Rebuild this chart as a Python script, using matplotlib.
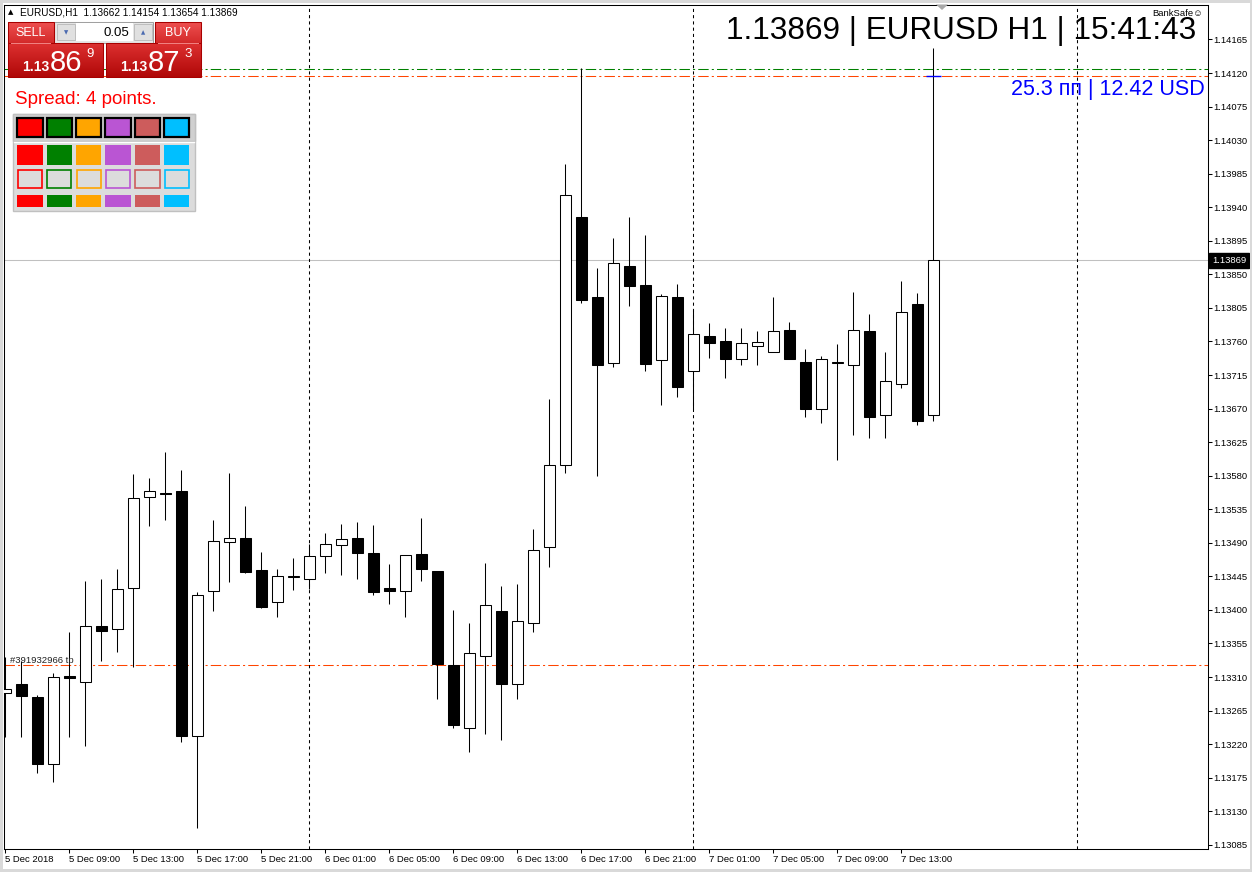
import numpy as np
import matplotlib.pyplot as plt
import matplotlib.transforms as mtransforms
from matplotlib.patches import Rectangle, Polygon
from matplotlib.colors import LinearSegmentedColormap

plt.rcParams['font.family'] = ['Liberation Sans', 'DejaVu Sans']

W, H = 1252, 872

# EURUSD H1, first bar = 5 Dec 2018 05:00, last bar = 7 Dec 15:00
opens = [1.13288, 1.13300, 1.13283, 1.13194, 1.13311, 1.13304, 1.13379, 1.13374, 1.13430, 1.13552,
         1.13557, 1.13559, 1.13231, 1.13426, 1.13491, 1.13497, 1.13453, 1.13410, 1.13444, 1.13441,
         1.13472, 1.13487, 1.13497, 1.13477, 1.13430, 1.13426, 1.13475, 1.13452, 1.13326, 1.13241,
         1.13338, 1.13399, 1.13300, 1.13382, 1.13485, 1.13595, 1.13927, 1.13820, 1.13731, 1.13861,
         1.13836, 1.13735, 1.13820, 1.13720, 1.13767, 1.13761, 1.13737, 1.13754, 1.13746, 1.13775,
         1.13733, 1.13670, 1.13731, 1.13728, 1.13774, 1.13661, 1.13703, 1.13810, 1.13662]
highs = [1.13337, 1.13331, 1.13286, 1.13316, 1.13370, 1.13439, 1.13442, 1.13455, 1.13582, 1.13577,
         1.13612, 1.13588, 1.13424, 1.13521, 1.13584, 1.13539, 1.13478, 1.13455, 1.13470, 1.13488,
         1.13503, 1.13515, 1.13518, 1.13514, 1.13462, 1.13473, 1.13523, 1.13452, 1.13400, 1.13382,
         1.13463, 1.13432, 1.13435, 1.13508, 1.13683, 1.13998, 1.14127, 1.13859, 1.13899, 1.13927,
         1.13903, 1.13824, 1.13837, 1.13802, 1.13785, 1.13778, 1.13778, 1.13774, 1.13820, 1.13786,
         1.13750, 1.13740, 1.13756, 1.13826, 1.13797, 1.13746, 1.13841, 1.13825, 1.14154]
lows = [1.13230, 1.13230, 1.13181, 1.13169, 1.13229, 1.13217, 1.13331, 1.13344, 1.13324, 1.13512,
        1.13520, 1.13223, 1.13107, 1.13399, 1.13438, 1.13450, 1.13402, 1.13391, 1.13427, 1.13428,
        1.13450, 1.13447, 1.13442, 1.13420, 1.13408, 1.13391, 1.13439, 1.13280, 1.13242, 1.13210,
        1.13234, 1.13225, 1.13281, 1.13371, 1.13457, 1.13583, 1.13812, 1.13580, 1.13726, 1.13808,
        1.13720, 1.13675, 1.13686, 1.13670, 1.13738, 1.13711, 1.13728, 1.13729, 1.13746, 1.13737,
        1.13659, 1.13651, 1.13601, 1.13635, 1.13631, 1.13630, 1.13697, 1.13648, 1.13654]
closes = [1.13294, 1.13284, 1.13193, 1.13310, 1.13309, 1.13379, 1.13372, 1.13428, 1.13550, 1.13559,
          1.13556, 1.13231, 1.13420, 1.13493, 1.13497, 1.13451, 1.13404, 1.13445, 1.13445, 1.13472,
          1.13488, 1.13495, 1.13477, 1.13424, 1.13426, 1.13473, 1.13455, 1.13327, 1.13246, 1.13342,
          1.13406, 1.13301, 1.13385, 1.13481, 1.13595, 1.13957, 1.13816, 1.13729, 1.13865, 1.13835,
          1.13730, 1.13821, 1.13699, 1.13770, 1.13758, 1.13737, 1.13758, 1.13759, 1.13774, 1.13737,
          1.13669, 1.13737, 1.13732, 1.13776, 1.13659, 1.13707, 1.13800, 1.13654, 1.13869]

time_labels = ['5 Dec 2018', '5 Dec 09:00', '5 Dec 13:00', '5 Dec 17:00', '5 Dec 21:00',
               '6 Dec 01:00', '6 Dec 05:00', '6 Dec 09:00', '6 Dec 13:00', '6 Dec 17:00',
               '6 Dec 21:00', '7 Dec 01:00', '7 Dec 05:00', '7 Dec 09:00', '7 Dec 13:00']
time_ticks = list(range(0, 4 * len(time_labels), 4))
day_starts = [19, 43, 67]
price_ticks = [round(1.13085 + 0.00045 * k, 5) for k in range(25)]

last_price = 1.13869
level_green = 1.14126
level_red = 1.14116
level_tp = 1.13326

palette = ['#FF0000', '#008000', '#FFA500', '#BA55D3', '#CD5C5C', '#00BFFF']


def px_box(x0, y0, x1, y1):
    return [x0 / W, 1 - y1 / H, (x1 - x0) / W, (y1 - y0) / H]


fig = plt.figure(figsize=(W / 100, H / 100), dpi=100, facecolor='white')
ax = fig.add_axes(px_box(4, 4.5, 1207.5, 849))
ax.set_facecolor('white')

# candles
o = np.array(opens)
c = np.array(closes)
x = np.arange(len(o))
bull = c >= o
ax.vlines(x, lows, highs, colors='black', linewidth=0.75, zorder=3)
ax.bar(x, np.maximum(np.abs(c - o), 0.000008), bottom=np.minimum(o, c), width=0.67,
       color=['white' if b else 'black' for b in bull], edgecolor='black',
       linewidth=0.75, zorder=4)

dashdot = (0, (10, 3, 2, 3))
ax.axhline(last_price, color='#C0C0C0', lw=0.75, zorder=1)
ax.axhline(level_green, color='#008000', lw=0.75, ls=dashdot, zorder=2)
ax.axhline(level_red, color='#FF4500', lw=0.75, ls=dashdot, zorder=2)
ax.axhline(level_tp, color='#FF4500', lw=0.75, ls=dashdot, zorder=2)
for d in day_starts:
    ax.axvline(d, color='black', lw=0.75, ls=(0, (3, 3)), zorder=2)
ax.hlines(level_red, len(o) - 1.45, len(o) - 0.55, color='#0000FF', lw=1, zorder=5)

ax.set_xlim((4 - 5.3) / 16, (1207.5 - 5.3) / 16)
ax.set_ylim(1.130794, 1.142119)
ax.set_xticks(time_ticks)
ax.set_xticklabels(time_labels, ha='left')
ax.set_yticks(price_ticks)
ax.set_yticklabels([f'{p:.5f}' for p in price_ticks])
ax.yaxis.tick_right()
ax.tick_params(axis='both', direction='out', length=3, width=0.75, labelsize=6.8,
               pad=1.5, colors='black')
for s in ax.spines.values():
    s.set_linewidth(0.75)
    s.set_color('black')

# overlay in pixel coordinates
ui = fig.add_axes([0, 0, 1, 1], zorder=5)
ui.set_axis_off()
ui.patch.set_alpha(0)

ax.text(1212, last_price, f'{last_price:.5f}', color='white', fontsize=6.8, va='center',
        ha='left', zorder=6, clip_on=False,
        transform=mtransforms.blended_transform_factory(ui.transData, ax.transData),
        bbox=dict(boxstyle='square,pad=0.3', fc='black', ec='black'))

# window frame
for r in [(0, 0, W, 3), (0, 0, 3, H), (W - 2, 0, 2, H), (0, H - 3, W, 3)]:
    ui.add_patch(Rectangle((r[0], r[1]), r[2], r[3], color='#D9D9D9', lw=0, zorder=1))

ui.add_patch(Polygon([(936, 4.5), (948, 4.5), (942, 10)], closed=True, color='#A8A8A8', lw=0))

ui.text(1196, 39.5, '1.13869 | EURUSD H1 | 15:41:43', fontsize=22.7, ha='right',
        va='baseline', color='black')
ui.text(1205, 95, '25.3 пп | 12.42 USD', fontsize=15.5, ha='right', va='baseline',
        color='#0000FF')
ui.text(1203, 13, 'BankSafe☺', fontsize=6.8, ha='right', va='center', color='black')

ui.text(8, 12.5, '▲', fontsize=5, ha='left', va='center', family='DejaVu Sans')
ui.text(20, 12.5, 'EURUSD,H1  1.13662 1.14154 1.13654 1.13869', fontsize=7.2,
        ha='left', va='center', color='black')
ui.text(10, 663, '#391932966 tp', fontsize=6.8, ha='left', va='baseline', color='#202020')


def gradient(x0, y0, x1, y1, top, bottom):
    cm = LinearSegmentedColormap.from_list('g', [top, bottom])
    ui.imshow(np.linspace(0, 1, 64).reshape(-1, 1), cmap=cm, extent=(x0, x1, y1, y0),
              aspect='auto', interpolation='bilinear', zorder=6)
    ui.add_patch(Rectangle((x0, y0), x1 - x0, y1 - y0, fill=False, ec='#A80000',
                           lw=0.75, zorder=7))


# trading panel
gradient(8, 22, 53.5, 43, '#EE5050', '#D42A2A')
gradient(155, 22, 201, 43, '#EE5050', '#D42A2A')
gradient(8, 43, 103, 77, '#DD3030', '#B00808')
gradient(106, 43, 201, 77, '#DD3030', '#B00808')
ui.plot([11, 50], [43.3, 43.3], color='#F08080', lw=0.75, zorder=8)
ui.plot([158, 198], [43.3, 43.3], color='#F08080', lw=0.75, zorder=8)
ui.text(30.5, 32.5, 'SELL', fontsize=9, color='white', ha='center', va='center', zorder=9)
ui.text(178, 32.5, 'BUY', fontsize=9, color='white', ha='center', va='center', zorder=9)

ui.add_patch(Rectangle((54, 22), 99, 21, fc='#E6E6E6', ec='#A0A0A0', lw=0.75, zorder=6))
ui.add_patch(Rectangle((76, 23.5), 57, 18, fc='white', ec='none', zorder=7))
ui.add_patch(Rectangle((57, 24.5), 18, 16, fc='#E0E0E0', ec='#B8B8B8', lw=0.6, zorder=7))
ui.add_patch(Rectangle((134, 24.5), 18, 16, fc='#E0E0E0', ec='#B8B8B8', lw=0.6, zorder=7))
ui.text(66, 32.5, '▼', fontsize=4, color='#4A6AB0', ha='center', va='center',
        family='DejaVu Sans', zorder=8)
ui.text(143, 32.5, '▲', fontsize=4, color='#4A6AB0', ha='center', va='center',
        family='DejaVu Sans', zorder=8)
ui.text(129, 32.5, '0.05', fontsize=9.5, color='black', ha='right', va='center', zorder=8)

for bx, big, small in [(22, '86', '9'), (120, '87', '3')]:
    ui.text(bx, 71, '1.13', fontsize=10, color='white', ha='left', va='baseline',
            weight='bold', zorder=9)
    ui.text(bx + 27.5, 71, big, fontsize=21, color='white', ha='left', va='baseline', zorder=9)
    ui.text(bx + 64.5, 57, small, fontsize=9.5, color='white', ha='left', va='baseline',
            zorder=9)

ui.text(15, 104, 'Spread: 4 points.', fontsize=13.5, color='#FF0000', ha='left',
        va='baseline')

# colour panel
ui.add_patch(Rectangle((13.3, 114.3), 181.7, 96.4, fc='#DCDCDC', ec='#C0C0C0', lw=1, zorder=2))
ui.add_patch(Rectangle((13.3, 114.3), 181.7, 27, fc='#D0D0D0', ec='#C0C0C0', lw=1, zorder=2))
ui.plot([14, 194], [142, 142], color='white', lw=1, zorder=3)
for k, col in enumerate(palette):
    x0 = 17.3 + 29.35 * k
    ui.add_patch(Rectangle((x0, 118.3), 25.3, 18.4, fc=col, ec='black', lw=1.6, zorder=3))
    ui.add_patch(Rectangle((x0, 145), 25.3, 20, fc=col, ec='none', zorder=3))
    ui.add_patch(Rectangle((x0 + 0.5, 169.8), 24.3, 18.4, fc='#DCDCDC', ec=col, lw=1.2, zorder=3))
    ui.add_patch(Rectangle((x0, 195), 25.3, 11.7, fc=col, ec='none', zorder=3))

ui.set_xlim(0, W)
ui.set_ylim(H, 0)

fig.savefig('out.png', dpi=100, facecolor='white')
